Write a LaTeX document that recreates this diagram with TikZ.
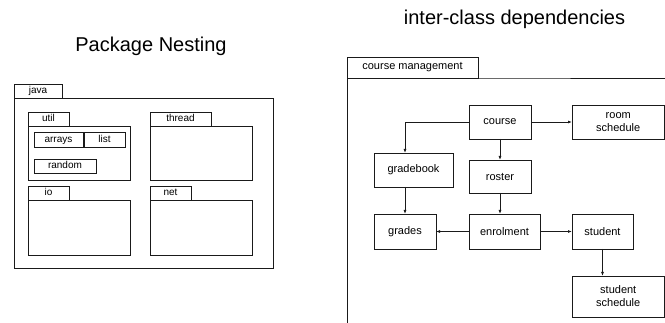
\documentclass[tikz,border=0pt]{standalone}
\usepackage{fontspec}
\setmainfont{Liberation Sans}
\usepackage{tikz}
\usetikzlibrary{arrows.meta, positioning, calc}
\definecolor{ink}{HTML}{1A1A1A}

\begin{document}
\begin{tikzpicture}[
  x=1pt, y=-1pt,
  pkgbox/.style={rectangle, draw=ink, line width=0.9pt, inner sep=0pt, outer sep=0pt, text height=7.2pt, text depth=2pt, font=\fontsize{10}{12}\selectfont},
  classbox/.style={rectangle, draw=ink, line width=0.9pt, inner sep=0pt, outer sep=0pt, align=center, font=\fontsize{11}{13}\selectfont},
  titletext/.style={font=\fontsize{20}{24}\selectfont, inner sep=0pt, anchor=base},
  arrow/.style={-{Latex[length=4pt, width=3pt]}, line width=0.9pt, ink}
]
  \useasboundingbox (0,0) rectangle (665,323);

  % Titles of the two panels
  \node[titletext] (t1) at (151,52) {Package Nesting};
  \node[titletext] (t2) at (514.5,25) {inter-class dependencies};

  % Left panel: the nested packages
  \node[pkgbox, minimum width=48pt, minimum height=14pt] (javatab) at (38,91) {java};
  \node[pkgbox, minimum width=259pt, minimum height=170pt] (java) at (143.5,183) {};
  \node[pkgbox, minimum width=41pt, minimum height=14pt] (utiltab) at (48.5,119) {util};
  \node[pkgbox, minimum width=102pt, minimum height=54pt] (util) at (79,153) {};
  \node[pkgbox, minimum width=49pt, minimum height=15pt] (arrays) at (58.5,139.5) {arrays};
  \node[pkgbox, minimum width=41pt, minimum height=15pt] (list) at (104.5,139.5) {list};
  \node[pkgbox, minimum width=62pt, minimum height=14pt] (random) at (65,166) {random};
  \node[pkgbox, minimum width=61pt, minimum height=14pt] (threadtab) at (180.5,119) {thread};
  \node[pkgbox, minimum width=102pt, minimum height=54pt] (thread) at (201,153) {};
  \node[pkgbox, minimum width=41pt, minimum height=14pt] (iotab) at (48.5,193) {io};
  \node[pkgbox, minimum width=102pt, minimum height=55pt] (io) at (79,227.5) {};
  \node[pkgbox, minimum width=41pt, minimum height=14pt] (nettab) at (170.5,193) {net};
  \node[pkgbox, minimum width=102pt, minimum height=55pt] (net) at (201,227.5) {};

  % Right panel: the package frame runs off the page
  \node[classbox, minimum width=131pt, minimum height=21pt] (cmtab) at (412.5,67.5) {course management};
  \coordinate (cmright) at (665,78);
  \coordinate (cmbottom) at (347,323);
  \draw[ink, line width=0.9pt] (cmright) -- (cmtab.south east) -- (cmtab.south west) -- (cmbottom);

  \node[classbox, minimum width=62pt, minimum height=34pt] (course) at (500,122) {course};
  \node[classbox, minimum width=92.5pt, minimum height=34pt] (room) at (618.25,122) {room\\schedule};
  \node[classbox, minimum width=79pt, minimum height=34pt] (gradebook) at (413.5,170) {gradebook};
  \node[classbox, minimum width=62pt, minimum height=33pt] (roster) at (500,176.5) {roster};
  \node[classbox, minimum width=62pt, minimum height=35pt] (grades) at (405,231.5) {grades};
  \node[classbox, minimum width=71pt, minimum height=35pt] (enrolment) at (504.5,231.5) {enrolment};
  \node[classbox, minimum width=61pt, minimum height=35pt] (student) at (602.5,231.5) {student};
  \node[classbox, minimum width=92.5pt, minimum height=41pt] (stsched) at (618.25,296.5) {student\\schedule};

  % Dependencies between the classes
  \draw[arrow] (course.west) -| (grades.north |- gradebook.north);
  \draw[arrow] (course.east) -- (room.west);
  \draw[arrow] (course.south) -- (roster.north);
  \draw[arrow] (roster.south) -- (enrolment.north -| roster.south);
  \draw[arrow] (gradebook.south -| grades.north) -- (grades.north);
  \draw[arrow] (enrolment.west) -- (grades.east);
  \draw[arrow] (enrolment.east) -- (student.west);
  \draw[arrow] (student.south) -- (student.south |- stsched.north);
\end{tikzpicture}
\end{document}
